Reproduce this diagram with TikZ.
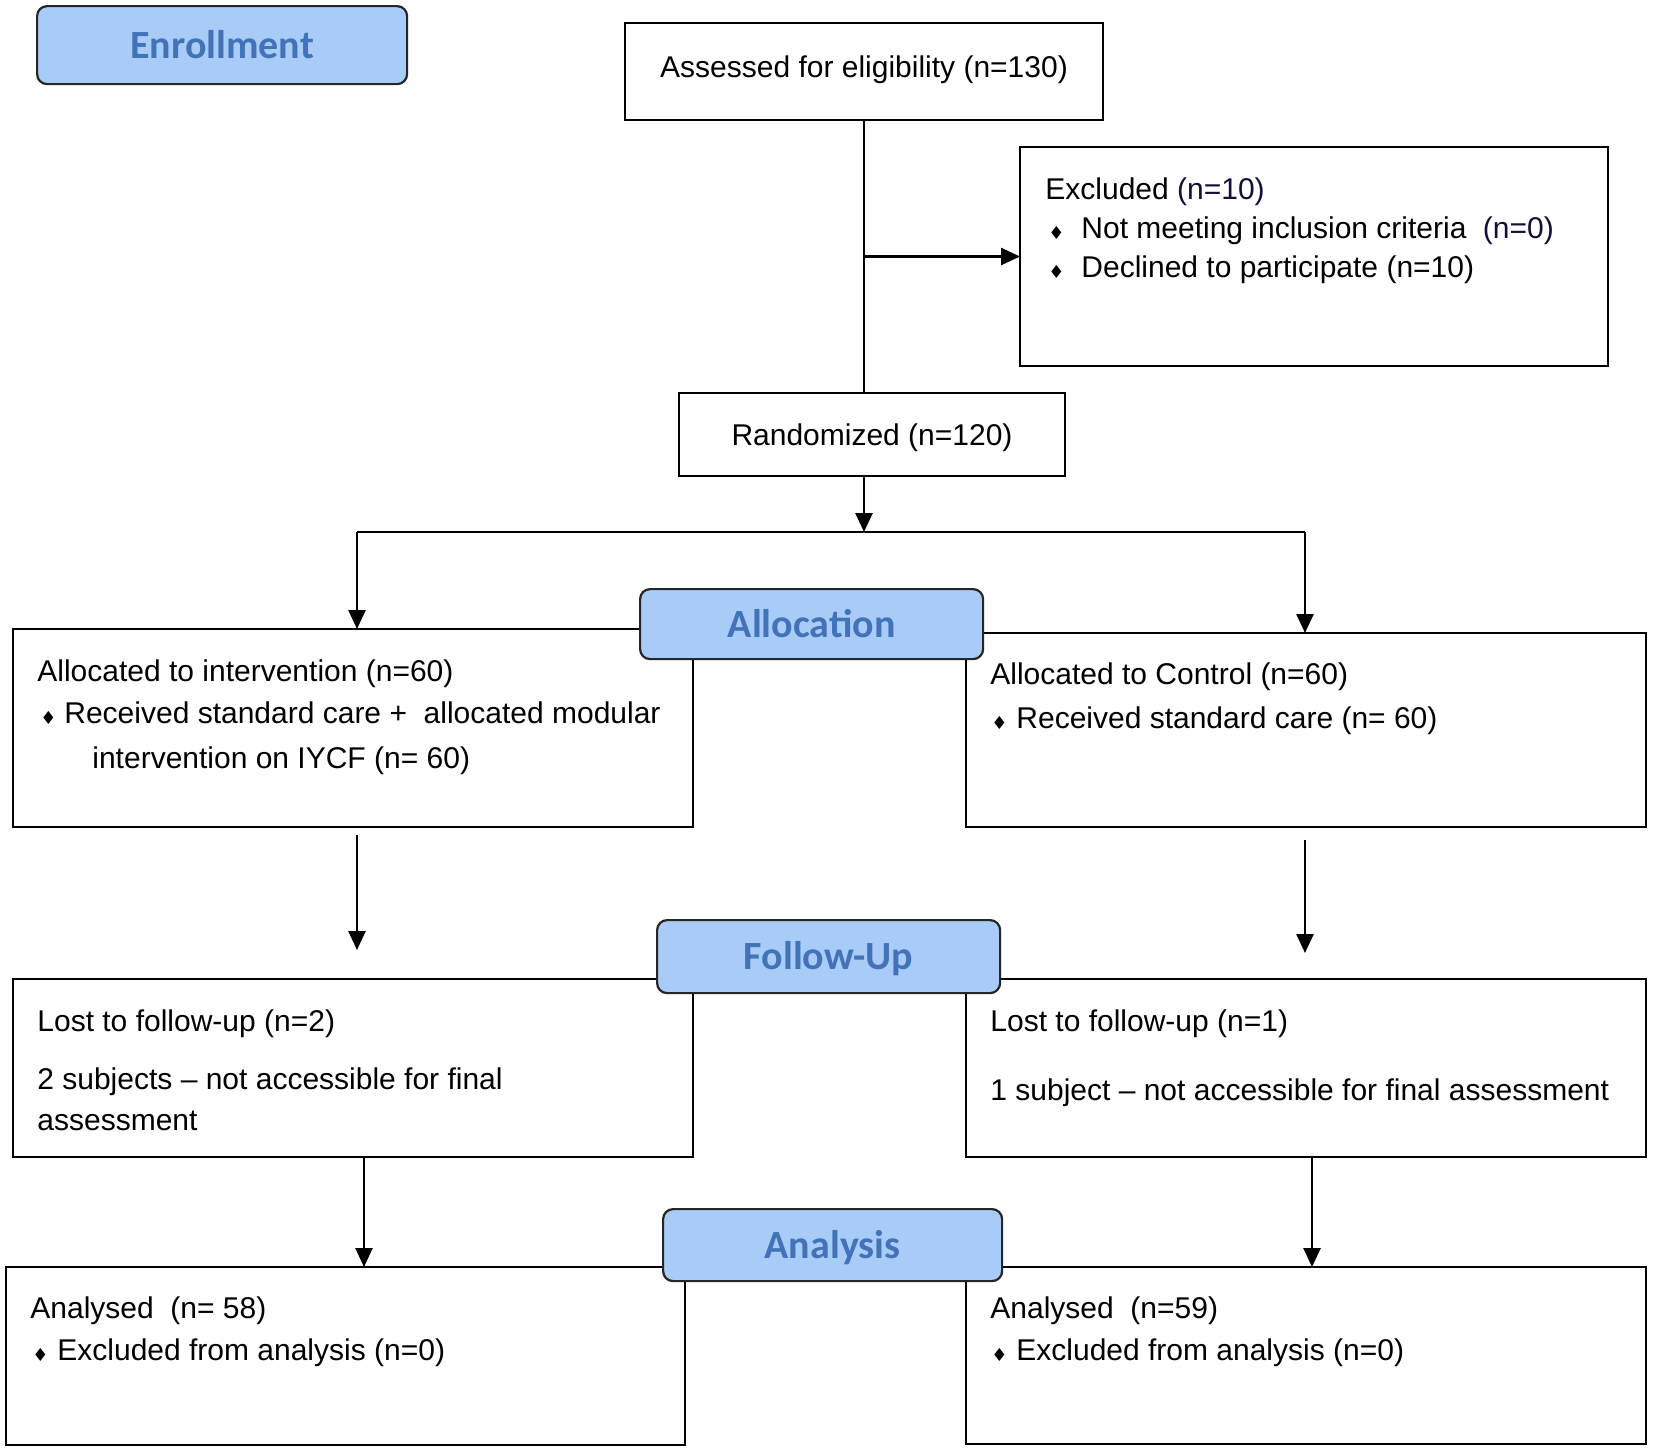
\documentclass[tikz,border=0pt]{standalone}
\usepackage{fontspec}
\setmainfont{Liberation Sans}
\newfontfamily\hdrfont{Carlito}
\newfontfamily\symfont{DejaVu Sans}
\usetikzlibrary{arrows.meta,calc}
\definecolor{hdrfill}{HTML}{A9CBF7}
\definecolor{hdrtext}{HTML}{4273B9}
\definecolor{nnavy}{HTML}{10103A}
\newcommand{\bul}{{\symfont\fontsize{9}{9}\selectfont ♦}}
\begin{document}
\begin{tikzpicture}[x=0.5pt,y=-0.5pt,
  box/.style={draw=black, line width=1.3pt, inner sep=0pt, outer sep=0pt, anchor=north west, fill=white},
  hdr/.style={draw=black!85, line width=1.1pt, fill=hdrfill, rounded corners=5pt, inner sep=0pt,
    anchor=north west, text=hdrtext, text height=12.9pt, text depth=0pt,
    font=\hdrfont\bfseries\fontsize{20}{24}\selectfont},
  txt/.style={anchor=base west, inner sep=0pt, font=\fontsize{15}{18}\selectfont},
  ctxt/.style={anchor=base, inner sep=0pt, font=\fontsize{15}{18}\selectfont},
  bl/.style={anchor=base west, inner sep=0pt},
  conn/.style={line width=1.3pt},
  arr/.style={line width=1.3pt, -{Triangle[length=9.5pt,width=8.5pt]}}
]
\fill[white] (0,0) rectangle (1654,1453);
\useasboundingbox (0,0) rectangle (1654,1453);

% boxes
\node[box, minimum width=239pt, minimum height=48.5pt] (assess) at (625,23) {};
\node[box, minimum width=294pt, minimum height=109.5pt] (excl) at (1020,147) {};
\node[box, minimum width=193pt, minimum height=41.5pt] (rand) at (679,393) {};
\node[box, minimum width=340pt, minimum height=99pt] (allocL) at (13,629) {};
\node[box, minimum width=340pt, minimum height=97pt] (allocR) at (966,633) {};
\node[box, minimum width=340pt, minimum height=89pt] (fuL) at (13,979) {};
\node[box, minimum width=340pt, minimum height=89pt] (fuR) at (966,979) {};
\node[box, minimum width=339.5pt, minimum height=89pt] (anL) at (6,1267) {};
\node[box, minimum width=340pt, minimum height=88.5pt] (anR) at (966,1267) {};

% texts
\node[ctxt] (tAss) at (864,77) {Assessed for eligibility (n=130)};
\node[txt] (tEx) at (1045,199) {Excluded \textcolor{nnavy}{(n=10)}};
\node[bl] (bEx1) at (1048,239) {\bul};
\node[txt] (tEx1) at (1081,238) {Not meeting inclusion criteria\hspace{4pt} \textcolor{nnavy}{(n=0)}};
\node[bl] (bEx2) at (1048,278) {\bul};
\node[txt] (tEx2) at (1081,277) {Declined to participate (n=10)};
\node[ctxt] (tRand) at (872,445) {Randomized (n=120)};

\node[txt] (tAL) at (37,681) {Allocated to intervention (n=60)};
\node[bl] (bAL) at (40,724) {\bul};
\node[txt] (tAL1) at (64,723) {Received standard care +\ \ allocated modular};
\node[txt] (tAL2) at (92,768) {intervention on IYCF (n= 60)};

\node[txt] (tAR) at (990,684) {Allocated to Control (n=60)};
\node[bl] (bAR) at (991,729) {\bul};
\node[txt] (tAR1) at (1016,728) {Received standard care (n= 60)};

\node[txt] (tFL) at (37,1031) {Lost to follow-up (n=2)};
\node[txt] (tFL1) at (37,1089) {2 subjects – not accessible for final};
\node[txt] (tFL2) at (37,1130) {assessment};

\node[txt] (tFR) at (990,1031) {Lost to follow-up (n=1)};
\node[txt] (tFR1) at (990,1100) {1 subject – not accessible for final assessment};

\node[txt] (tNL) at (30,1318) {Analysed\ \ (n= 58)};
\node[bl] (bNL) at (32,1361) {\bul};
\node[txt] (tNL1) at (57,1360) {Excluded from analysis (n=0)};

\node[txt] (tNR) at (990,1318) {Analysed\ \ (n=59)};
\node[bl] (bNR) at (991,1361) {\bul};
\node[txt] (tNR1) at (1016,1360) {Excluded from analysis (n=0)};

% connectors
\coordinate (spy) at (0,532);
\coordinate (sL) at (357,532);
\coordinate (sR) at (1305,532);
\coordinate (mL1) at (357,835);
\coordinate (mL2) at (357,950);
\coordinate (mR1) at (1305,840);
\coordinate (mR2) at (1305,953);
\coordinate (cL) at (364,0);
\coordinate (cR) at (1312,0);

\draw[conn] (assess.south) -- (assess.south |- rand.north);
\draw[arr] (assess.south |- excl.west) -- (excl.west);
\draw[arr] (assess.south |- rand.south) -- (assess.south |- spy);
\draw[conn] (sL) -- (sR);
\draw[arr] (sL) -- (sL |- allocL.north);
\draw[arr] (sR) -- (sR |- allocR.north);
\draw[arr] (mL1) -- (mL2);
\draw[arr] (mR1) -- (mR2);
\draw[arr] (cL |- fuL.south) -- (cL |- anL.north);
\draw[arr] (cR |- fuR.south) -- (cR |- anR.north);

% headers
\node[hdr, minimum width=185pt, minimum height=39pt] (hEn) at (36,5) {Enrollment};
\node[hdr, minimum width=171.5pt, minimum height=35pt] (hAl) at (639,588) {Allocation};
\node[hdr, minimum width=171.5pt, minimum height=36.5pt] (hFu) at (656,919) {Follow-Up};
\node[hdr, minimum width=169.5pt, minimum height=36pt] (hAn) at (662,1208) {Analysis};
\end{tikzpicture}
\end{document}
